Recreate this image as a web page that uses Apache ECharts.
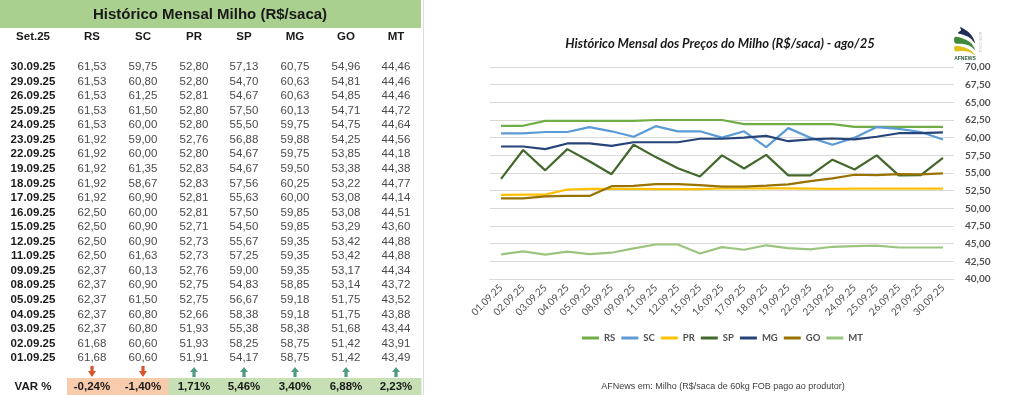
<!DOCTYPE html>
<html>
<head>
<meta charset="utf-8">
<script src="https://cdn.jsdelivr.net/npm/echarts@6/dist/echarts.min.js"></script>
<style>
html,body{margin:0;padding:0;background:#fff;}
#c{width:1024px;height:395px;}
</style>
</head>
<body>
<div id="c"></div>
<script>
// ---- Data (table order: newest first) ----
const tableTitle = 'Histórico Mensal Milho (R$/saca)';
const periodLabel = 'Set.25';
const states = ['RS', 'SC', 'PR', 'SP', 'MG', 'GO', 'MT'];
const dates = ['30.09.25','29.09.25','26.09.25','25.09.25','24.09.25','23.09.25','22.09.25','19.09.25','18.09.25','17.09.25','16.09.25','15.09.25','12.09.25','11.09.25','09.09.25','08.09.25','05.09.25','04.09.25','03.09.25','02.09.25','01.09.25'];
const RS = [61.53,61.53,61.53,61.53,61.53,61.92,61.92,61.92,61.92,61.92,62.50,62.50,62.50,62.50,62.37,62.37,62.37,62.37,62.37,61.68,61.68];
const SC = [59.75,60.80,61.25,61.50,60.00,59.00,60.00,61.35,58.67,60.90,60.00,60.90,60.90,61.63,60.13,60.90,61.50,60.80,60.80,60.60,60.60];
const PR = [52.80,52.80,52.81,52.80,52.80,52.76,52.80,52.83,52.83,52.81,52.81,52.71,52.73,52.73,52.76,52.75,52.75,52.66,51.93,51.93,51.91];
const SP = [57.13,54.70,54.67,57.50,55.50,56.88,54.67,54.67,57.56,55.63,57.50,54.50,55.67,57.25,59.00,54.83,56.67,58.38,55.38,58.25,54.17];
const MG = [60.75,60.63,60.63,60.13,59.75,59.88,59.75,59.50,60.25,60.00,59.85,59.85,59.35,59.35,59.35,58.85,59.18,59.18,58.38,58.75,58.75];
const GO = [54.96,54.81,54.85,54.71,54.75,54.25,53.85,53.38,53.22,53.08,53.08,53.29,53.42,53.42,53.17,53.14,51.75,51.75,51.68,51.42,51.42];
const MT = [44.46,44.46,44.46,44.72,44.64,44.56,44.18,44.38,44.77,44.14,44.51,43.60,44.88,44.88,44.34,43.72,43.52,43.88,43.44,43.91,43.49];
const varLabels = ['-0,24%','-1,40%','1,71%','5,46%','3,40%','6,88%','2,23%'];
const chartTitle = 'Histórico Mensal dos Preços do Milho (R$/saca) - ago/25';
const footer = 'AFNews em: Milho (R$/saca de 60kg FOB pago ao produtor)';

// ---- Styles ----
const seriesColors = ['#70ad47','#5b9bd5','#ffc000','#43682b','#264478','#997300','#9bc57e'];
const seriesData = [RS, SC, PR, SP, MG, GO, MT];
const colX = [33, 92, 143, 194, 244, 295, 346, 396];
const fmt = v => v.toFixed(2).replace('.', ',');

const chart = echarts.init(document.getElementById('c'), null, {renderer: 'canvas'});

const g = [];
// borders
g.push({type:'line', shape:{x1:423.5,y1:0,x2:423.5,y2:395}, style:{stroke:'#dcdcdc', lineWidth:1}, z:1});
// title bar
g.push({type:'rect', shape:{x:0,y:0,width:421,height:28}, style:{fill:'#a9d08e'}, z:1});
g.push({type:'text', x:210, y:15, style:{text:tableTitle, fill:'#1a1a1a', font:'bold 15px "Liberation Sans", Arial', align:'center', verticalAlign:'middle'}, z:2});
// header
g.push({type:'text', x:colX[0], y:37, style:{text:periodLabel, fill:'#1a1a1a', font:'bold 11.5px "Liberation Sans", Arial', align:'center', verticalAlign:'middle'}, z:2});
states.forEach((s,j)=>{
  g.push({type:'text', x:colX[j+1], y:37, style:{text:s, fill:'#1a1a1a', font:'bold 11.5px "Liberation Sans", Arial', align:'center', verticalAlign:'middle'}, z:2});
});
// rows
dates.forEach((d,i)=>{
  const y = 67 + i*14.55;
  g.push({type:'text', x:colX[0], y:y, style:{text:d, fill:'#1a1a1a', font:'bold 11.5px "Liberation Sans", Arial', align:'center', verticalAlign:'middle'}, z:2});
  seriesData.forEach((arr,j)=>{
    g.push({type:'text', x:colX[j+1], y:y, style:{text:fmt(arr[i]), fill:'#4a4a4a', font:'11.5px "Liberation Sans", Arial', align:'center', verticalAlign:'middle'}, z:2});
  });
});
// VAR row backgrounds and arrows
g.push({type:'text', x:colX[0], y:387, style:{text:'VAR %', fill:'#1a1a1a', font:'bold 11.5px "Liberation Sans", Arial', align:'center', verticalAlign:'middle'}, z:2});
varLabels.forEach((v,j)=>{
  const neg = v.charAt(0) === '-';
  const cx = colX[j+1];
  const left = j === 0 ? 67 : (colX[j] + cx) / 2;
  const right = j === states.length-1 ? 421 : (cx + colX[j+2]) / 2;
  g.push({type:'rect', shape:{x:left,y:378,width:right-left+0.5,height:17}, style:{fill: neg ? '#f8cbad' : '#c6e0b4'}, z:1});
  g.push({type:'text', x:cx, y:387, style:{text:v, fill:'#1a1a1a', font:'bold 11.5px "Liberation Sans", Arial', align:'center', verticalAlign:'middle'}, z:2});
  const pts = neg
    ? [[cx-1.6,366],[cx+1.6,366],[cx+1.6,371],[cx+4,371],[cx,377],[cx-4,371],[cx-1.6,371]]
    : [[cx,367],[cx+4,372],[cx+1.6,372],[cx+1.6,377],[cx-1.6,377],[cx-1.6,372],[cx-4,372]];
  g.push({type:'polygon', shape:{points:pts}, style:{fill: neg ? '#d9532c' : '#4f9a84'}, z:2});
});
// chart title & footer
g.push({type:'text', x:720, y:44, style:{text:chartTitle, fill:'#1a1a1a', font:'italic bold 13px Lato, "Open Sans", sans-serif', align:'center', verticalAlign:'middle'}, z:2});
g.push({type:'text', x:723, y:387, style:{text:footer, fill:'#404040', font:'9px "Liberation Sans", Arial', align:'center', verticalAlign:'middle'}, z:2});
// logo
g.push({type:'polygon', shape:{smooth:0.35, points:[[960,27],[967,31],[972,36],[975,43],[970,38],[964,35],[958,33],[961,30]]}, style:{fill:'#1f2d5a'}, z:2});
g.push({type:'polygon', shape:{smooth:0.35, points:[[955,37],[964,39],[971,43],[975,50],[970,46],[963,44],[955,43]]}, style:{fill:'#3f8a3a'}, z:2});
g.push({type:'polygon', shape:{smooth:0.35, points:[[955,46],[963,47],[970,50],[975,55],[969,52],[962,51],[955,51]]}, style:{fill:'#e0c21a'}, z:2});
g.push({type:'text', x:965, y:59, style:{text:'AFNEWS', fill:'#2d5a3a', font:'bold 5px "Liberation Sans", Arial', align:'center', verticalAlign:'middle'}, z:2});
g.push({type:'text', x:980, y:42, rotation:-Math.PI/2, style:{text:'AGRÍCOLA', fill:'#c8c8c8', font:'4px "Liberation Sans", Arial', align:'center', verticalAlign:'middle'}, z:2});

const chartDates = dates.slice().reverse();

chart.setOption({
  backgroundColor: '#ffffff',
  animation: false,
  color: seriesColors,
  grid: {left: 490, right: 70, top: 67, bottom: 116, containLabel: false},
  legend: {
    data: states, left: 577, top: 328, itemWidth: 17, itemHeight: 3, itemGap: 6, icon: 'rect',
    textStyle: {color: '#505050', fontSize: 9.5, fontWeight: 'bold', fontFamily: 'Lato, sans-serif'}
  },
  xAxis: {
    type: 'category', data: chartDates, boundaryGap: true,
    axisLine: {show: true, lineStyle: {color: '#d9d9d9'}},
    axisTick: {show: false},
    axisLabel: {rotate: 45, interval: 0, fontSize: 10, color: '#505050', fontFamily: 'Lato, sans-serif', margin: 7}
  },
  yAxis: {
    type: 'value', position: 'right', min: 40, max: 70, interval: 2.5,
    axisLine: {show: false}, axisTick: {show: false},
    splitLine: {lineStyle: {color: '#d9d9d9'}},
    axisLabel: {formatter: fmt, fontSize: 10, fontWeight: 'bold', color: '#505050', fontFamily: 'Lato, sans-serif', margin: 11}
  },
  series: states.map((s,j)=>({
    name: s, type: 'line', data: seriesData[j].slice().reverse(), symbol: 'none',
    lineStyle: {width: 2.2, color: seriesColors[j]}, itemStyle: {color: seriesColors[j]}
  })),
  graphic: g
});
</script>
</body>
</html>
